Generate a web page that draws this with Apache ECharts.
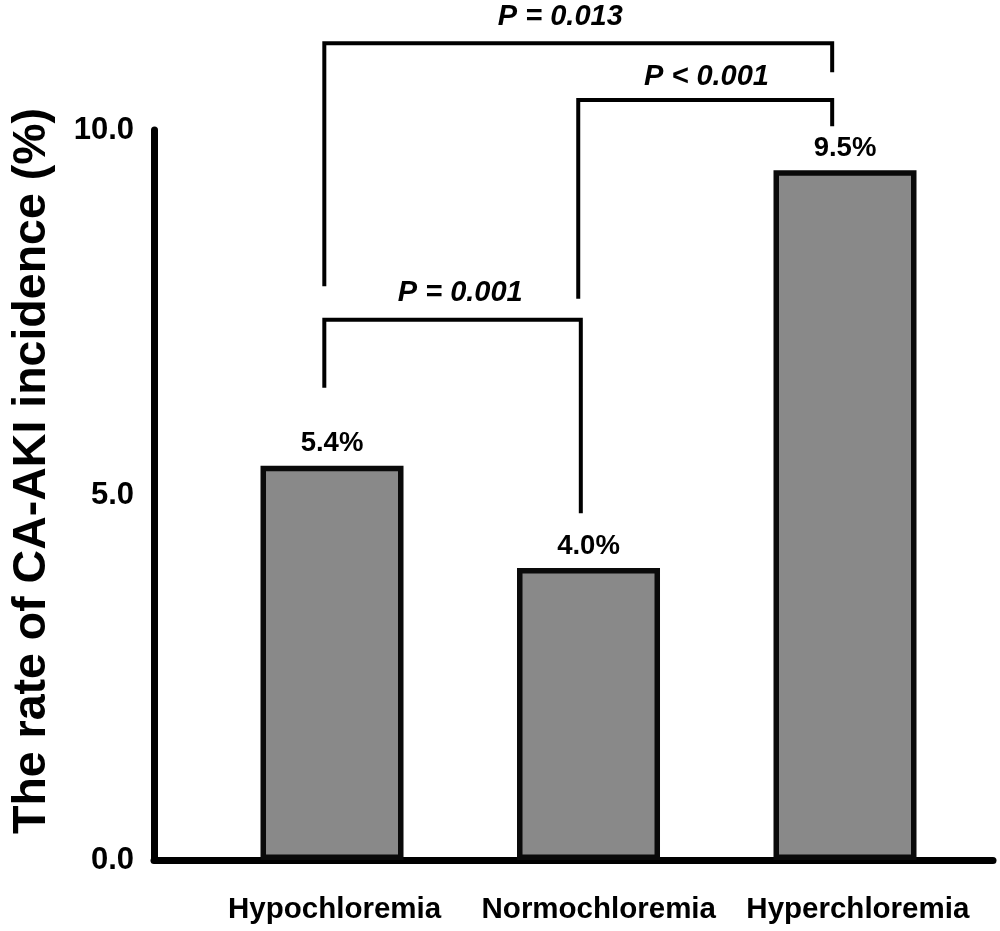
<!DOCTYPE html>
<html>
<head>
<meta charset="utf-8">
<script src="https://cdn.jsdelivr.net/npm/echarts@6/dist/echarts.min.js"></script>
<style>
  html, body { margin: 0; padding: 0; background: #fff; }
  #chart { width: 1000px; height: 931px; }
</style>
</head>
<body>
<div id="chart"></div>
<script>
// ---- data ----
var categories = ['Hypochloremia', 'Normochloremia', 'Hyperchloremia'];
var rates = [5.4, 4.0, 9.45];
var rateLabels = ['5.4%', '4.0%', '9.5%'];
var yTicks = [0, 5, 10];

// significance brackets (x in category units, y in % units)
var bracketHypoNormo = [[-0.03, 6.47], [-0.03, 7.40], [0.97, 7.40], [0.97, 4.75]];
var bracketHypoHyper = [[-0.03, 7.86], [-0.03, 11.19], [1.95, 11.19], [1.95, 10.79]];
var bracketNormoHyper = [[0.96, 7.69], [0.96, 10.41], [1.95, 10.41], [1.95, 10.05]];
var pTexts = ['P = 0.001', 'P = 0.013', 'P < 0.001'];
var pPositions = [[0.50, 7.77], [0.89, 11.55], [1.46, 10.73]];

var FONT = '"Liberation Sans", Arial, sans-serif';

var chart = echarts.init(document.getElementById('chart'), null, { renderer: 'canvas' });

function bracketSeries(pts) {
  return {
    type: 'line',
    data: pts,
    symbol: 'none',
    clip: false,
    silent: true,
    lineStyle: { color: '#000', width: 4, cap: 'butt', join: 'miter' },
    z: 5
  };
}

var option = {
  backgroundColor: '#fff',
  animation: false,
  grid: { left: 154, right: 7, top: 130, bottom: 71, containLabel: false },
  xAxis: {
    type: 'value',
    min: -0.694,
    max: 2.577,
    axisLine: { show: true, onZero: false, lineStyle: { color: '#000', width: 7 } },
    axisTick: { show: false },
    splitLine: { show: false },
    axisLabel: {
      customValues: [0.01, 1.04, 2.05],
      formatter: function (v) { return categories[Math.round(v)]; },
      margin: 35,
      color: '#000',
      fontFamily: FONT,
      fontWeight: 'bold',
      fontSize: 29.5
    }
  },
  yAxis: {
    type: 'value',
    min: yTicks[0],
    max: yTicks[yTicks.length - 1],
    interval: 5,
    name: 'The rate of CA-AKI incidence (%)',
    nameLocation: 'middle',
    nameRotate: 90,
    nameGap: 98,
    nameTextStyle: {
      color: '#000',
      fontFamily: FONT,
      fontWeight: 'bold',
      fontSize: 46.5,
      padding: [0, 0, 0, 48]
    },
    axisLine: { show: true, onZero: false, lineStyle: { color: '#000', width: 7 } },
    axisTick: { show: false },
    splitLine: { show: false },
    axisLabel: {
      formatter: function (v) { return v.toFixed(1); },
      margin: 20,
      color: '#000',
      fontFamily: FONT,
      fontWeight: 'bold',
      fontSize: 31
    }
  },
  series: [
    {
      type: 'bar',
      data: rates.map(function (r, i) { return [i, r]; }),
      barWidth: 143,
      itemStyle: {
        color: '#898989',
        borderColor: '#0a0a0a',
        borderWidth: 5.5
      },
      label: {
        show: true,
        position: 'top',
        distance: 8,
        formatter: function (p) { return rateLabels[p.dataIndex]; },
        color: '#000',
        fontFamily: FONT,
        fontWeight: 'bold',
        fontSize: 27.5
      },
      z: 3
    },
    bracketSeries(bracketHypoNormo),
    bracketSeries(bracketHypoHyper),
    bracketSeries(bracketNormoHyper),
    {
      type: 'scatter',
      data: pPositions,
      symbolSize: 0,
      clip: false,
      silent: true,
      itemStyle: { opacity: 1 },
      label: {
        show: true,
        position: 'inside',
        formatter: function (p) { return pTexts[p.dataIndex]; },
        color: '#000',
        fontFamily: FONT,
        fontWeight: 'bold',
        fontStyle: 'italic',
        fontSize: 29
      },
      z: 6
    }
  ]
};
chart.setOption(option);
</script>
</body>
</html>
